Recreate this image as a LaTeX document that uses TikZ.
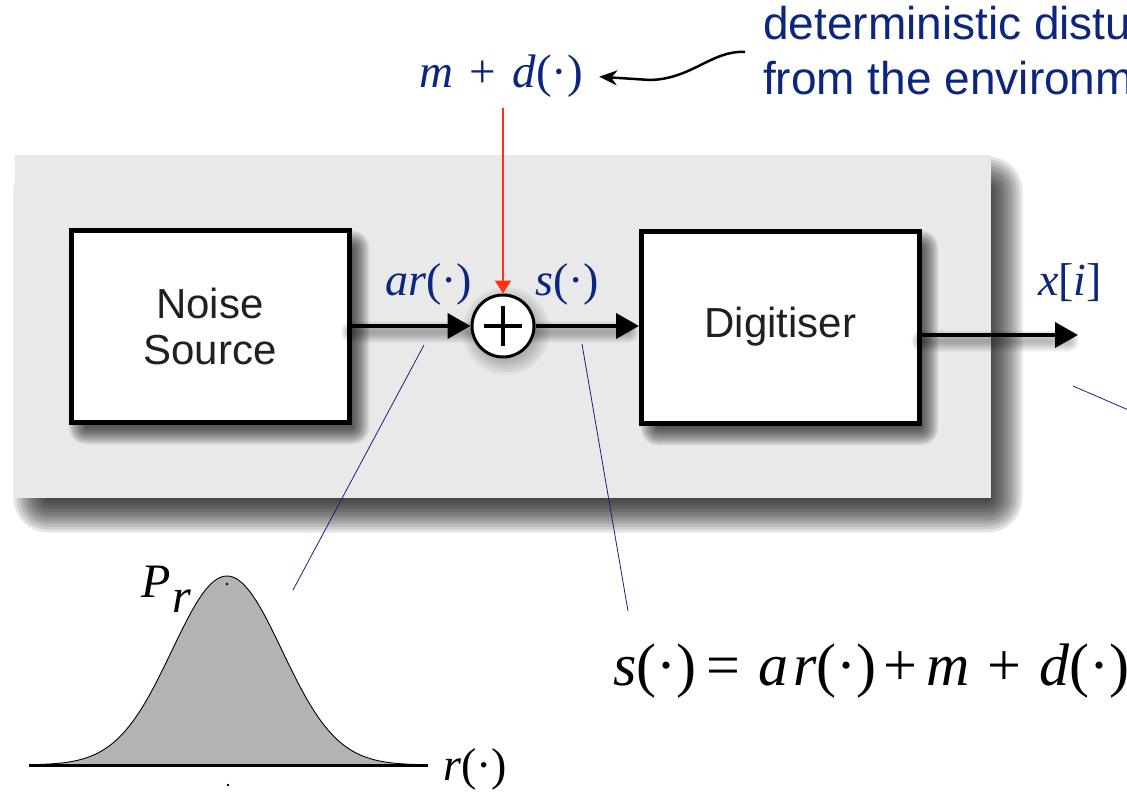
\documentclass[tikz,border=0pt]{standalone}
\usepackage{fontspec}
\setmainfont{Liberation Serif}
\newfontfamily\sansf{Liberation Sans}
\usetikzlibrary{arrows.meta}
\definecolor{navy}{RGB}{12,38,128}
\definecolor{panelgray}{RGB}{233,233,233}
\definecolor{gaussgray}{RGB}{179,179,179}
\definecolor{redline}{RGB}{255,48,20}
\definecolor{boxtext}{RGB}{35,31,32}
% soft shadow: x1 y1 x2 y2 blur opacity-per-layer
\newcommand\blurrect[6]{%
  \foreach \k in {1,...,12}{%
    \pgfmathsetmacro\ee{#5*(0.5-(\k-0.5)/12)}%
    \pgfmathsetmacro\rc{max(#5*0.5+\ee,0.5)}%
    \fill[black, opacity=#6, rounded corners=\rc pt] ({#1-(\ee)},{#2-(\ee)}) rectangle ({#3+(\ee)},{#4+(\ee)});
  }}
\begin{document}
\begin{tikzpicture}[x=1pt,y=-1pt,
  panelbox/.style={fill=panelgray, inner sep=0pt, minimum width=976pt, minimum height=343pt},
  blockbox/.style={draw=black, line width=5pt, fill=white, minimum width=278pt, minimum height=192pt,
    inner sep=0pt, align=center, font=\sansf\fontsize{42}{46}\selectfont, text=boxtext},
  sumnode/.style={circle, draw=black, line width=3pt, fill=white, minimum size=62pt, inner sep=0pt},
  sigarrow/.style={line width=4pt, -{Triangle[length=23pt,width=25pt]}},
  sigshadow/.style={line width=#1, black, opacity=0.03, line cap=round},
  redarrow/.style={line width=2pt, redline, -{Triangle[length=13pt,width=16pt]}},
  curvearrow/.style={line width=2.5pt, -{Stealth[length=18pt,width=15pt]}},
  leader/.style={navy, line width=0.8pt},
  navylabel/.style={text=navy, font=\fontsize{46}{50}\selectfont, inner sep=0pt, anchor=base west},
  blacklabel/.style={text=black, inner sep=0pt, anchor=base west},
  distext/.style={text=navy, font=\sansf\fontsize{46}{54}\selectfont, inner sep=0pt, anchor=base west}
]
\useasboundingbox (0,0) rectangle (1127,792);
\clip (0,0) rectangle (1127,792);

% grey panel with soft shadow
\blurrect{30}{173}{1006}{516}{36}{0.1}
\node[panelbox] (panel) at (503,326.5) {};

% block shadows
\blurrect{77}{239}{361}{436}{18}{0.075}
\blurrect{649}{239}{930}{437}{18}{0.075}

% blocks
\node[blockbox] (noise) at (210,326.5) {Noise\\Source};
\node[blockbox] (digit) at (780.5,327) {Digitiser};

% coordinates for signal paths
\coordinate (xend) at (1078,335);
\coordinate (xstart) at (digit.east |- xend);
\coordinate (sumc) at (503,326);
\coordinate (nstart) at (noise.east |- sumc);

% soft shadows of signal arrows and adder
\foreach \w in {4,6,...,22}{
  \draw[sigshadow=\w pt] ([yshift=-6pt]xstart) -- ([yshift=-6pt,xshift=-10pt]xend);
  \draw[sigshadow=\w pt] ([yshift=-6pt]nstart) -- ([yshift=-6pt,xshift=-30pt]sumc);
  \draw[sigshadow=\w pt] ([yshift=-6pt,xshift=30pt]sumc) -- ([yshift=-6pt,xshift=125pt]sumc);
}
\foreach \r in {30,32,...,44}{
  \fill[black, opacity=0.03] ([xshift=3pt,yshift=-5pt]sumc) circle (\r);
}

\node[sumnode] (sum) at (sumc) {};
\draw[line width=4.5pt] ([xshift=-19pt]sum.center) -- ([xshift=19pt]sum.center);
\draw[line width=4.5pt] ([yshift=-20pt]sum.center) -- ([yshift=20pt]sum.center);

% signal arrows
\draw[sigarrow] (nstart) -- (sum.west);
\draw[sigarrow] (sum.east) -- (sum.east -| digit.west);
\draw[sigarrow] (xstart) -- (xend);

% labels on signals
\node[navylabel] (arlab) at (385,295) {\textit{ar}(·)};
\node[navylabel] (slab) at (535,295) {\textit{s}(·)};
\node[navylabel] (xlab) at (1038,295) {\textit{x}[\textit{i}]};

% disturbance input
\node[text=navy, font=\fontsize{47}{50}\selectfont, inner xsep=16pt, inner ysep=10pt, anchor=base] (md) at (501,88)
  {\textit{m}\hspace{0.35em}+\hspace{0.35em}\textit{d}(·)};
\draw[redarrow] (md.south -| sum.north) -- (sum.north);

\node[distext] (dis1) at (763,40) {deterministic disturbance};
\node[distext] (dis2) at (763,94) {from the environment};
\coordinate (dstart) at (745,52);
\draw[curvearrow] (dstart) .. controls (712,50) and (692,79) .. (650,80) -- (md.east);

% leader lines
\coordinate (la1) at (424,345);
\coordinate (lb1) at (293,590);
\coordinate (la2) at (582,344);
\coordinate (lb2) at (628,611);
\coordinate (la3) at (1073,386);
\coordinate (lb3) at (1140,415);
\draw[leader] (la1) -- (lb1);
\draw[leader] (la2) -- (lb2);
\draw[leader] (la3) -- (lb3);

% gaussian
\fill[gaussgray] plot[domain=-188:188,samples=121] ({227+\x},{765-189*exp(-0.5*(\x/55)^2)}) -- cycle;
\draw[line width=0.9pt] plot[domain=-188:188,samples=121] ({227+\x},{765-189*exp(-0.5*(\x/55)^2)});
\draw[line width=3pt] (29,765) -- (428,765);
\fill (227,584) circle (1.3);
\fill (228,785) circle (1.3);
\node[blacklabel, font=\fontsize{48}{52}\selectfont] (plab) at (141,597)
  {\textit{P}\hspace{2pt}\raisebox{-15pt}{\textit{r}}};
\node[blacklabel, font=\fontsize{46}{50}\selectfont] (rlab) at (443,780) {\textit{r}(·)};

% equation
\node[blacklabel, font=\fontsize{60}{64}\selectfont] (eq) at (613,685)
  {\textit{s}(·)\hspace{10pt}=\hspace{18pt}\textit{a}\hspace{5pt}\textit{r}(·)\hspace{7pt}+\hspace{9pt}\textit{m}\hspace{18pt}+\hspace{18pt}\textit{d}(·)};
\end{tikzpicture}
\end{document}
